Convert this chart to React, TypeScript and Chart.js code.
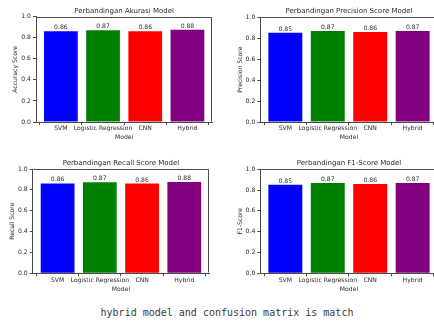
import React, { useEffect, useRef } from "react";
import { Chart, registerables } from "chart.js";

Chart.register(...registerables);

const models = ["SVM", "Logistic Regression", "CNN", "Hybrid"];
const barColors = ["#0000ff", "#008000", "#ff0000", "#800080"];
const accuracyValues = [0.862, 0.872, 0.861, 0.876];
const precisionValues = [0.853, 0.868, 0.859, 0.868];
const recallValues = [0.862, 0.872, 0.861, 0.876];
const f1Values = [0.852, 0.869, 0.858, 0.869];
const yTickValues = [0, 0.2, 0.4, 0.6, 0.8, 1.0];
const captionText = "hybrid model and confusion matrix is match";

const FAMILY = '"DejaVu Sans", sans-serif';
const TEXT = "#2a2a2a";
const LINE = "#4a4a4a";
const SMALL = 6.1;
const TITLE = 7;

type Layout = {
  left: number; top: number; width: number; height: number;
  plotLeft: number; plotRight: number; plotTop: number; plotBottom: number;
  titleY: number; yTitleX: number; xTitleY: number;
};

const framePlugin = {
  id: "frame",
  afterDatasetsDraw(chart: any) {
    const { ctx, chartArea: a } = chart;
    ctx.save();
    ctx.strokeStyle = LINE;
    ctx.lineWidth = 1;
    const l = Math.round(a.left) + 0.5;
    const r = Math.round(a.right) - 0.5;
    const t = Math.round(a.top) + 0.5;
    const b = Math.round(a.bottom) - 0.5;
    ctx.beginPath();
    ctx.moveTo(l, t);
    ctx.lineTo(r, t);
    ctx.lineTo(r, b);
    ctx.stroke();
    ctx.restore();
  },
};

const valueLabelPlugin = {
  id: "valueLabels",
  afterDatasetsDraw(chart: any) {
    const { ctx } = chart;
    const meta = chart.getDatasetMeta(0);
    const data = chart.data.datasets[0].data as any[];
    ctx.save();
    ctx.font = `${SMALL}px ${FAMILY}`;
    ctx.fillStyle = TEXT;
    ctx.textAlign = "center";
    ctx.textBaseline = "bottom";
    meta.data.forEach((el: any, i: number) => {
      ctx.fillText(Number(data[i].y).toFixed(2), el.x, el.y - 0.5);
    });
    ctx.restore();
  },
};

function BarPanel({ layout, title, yLabel, values }: { layout: Layout; title: string; yLabel: string; values: number[] }) {
  const ref = useRef<HTMLCanvasElement>(null);
  useEffect(() => {
    const L = layout;
    const titleLH = TITLE * 1.2;
    const smallLH = SMALL * 1.2;
    const titlePadTop = L.titleY - titleLH / 2;
    const titlePadBottom = L.plotTop - titleLH - titlePadTop;
    const xTitlePadBottom = L.height - L.xTitleY - smallLH / 2;
    const yTitlePadTop = L.yTitleX - smallLH / 2;
    const font = { family: FAMILY, size: SMALL };
    const chart = new Chart(ref.current as HTMLCanvasElement, {
      type: "bar",
      data: {
        datasets: [
          {
            data: values.map((v, i) => ({ x: i, y: v })) as any,
            backgroundColor: barColors,
            borderWidth: 0,
            barPercentage: 0.8,
            categoryPercentage: 1,
          },
        ],
      },
      options: {
        animation: false,
        responsive: false,
        devicePixelRatio: 1,
        layout: { padding: { left: 0, top: 0, bottom: 0, right: L.width - L.plotRight } },
        plugins: {
          legend: { display: false },
          tooltip: { enabled: false },
          title: {
            display: true,
            fullSize: false,
            text: title,
            color: TEXT,
            font: { family: FAMILY, size: TITLE, weight: "normal" as any },
            padding: { top: titlePadTop, bottom: titlePadBottom },
          },
        },
        scales: {
          x: {
            type: "linear",
            min: -0.59,
            max: 3.59,
            offset: false,
            afterBuildTicks: (s: any) => {
              s.ticks = models.map((_, i) => ({ value: i }));
            },
            afterFit: (s: any) => {
              s.height = L.height - L.plotBottom;
            },
            ticks: {
              autoSkip: false,
              maxRotation: 0,
              minRotation: 0,
              padding: 0,
              color: TEXT,
              font,
              callback: (v: any) => models[Number(v)] ?? "",
            },
            grid: { drawOnChartArea: false, drawTicks: true, tickLength: 3, color: LINE },
            border: { display: true, color: LINE, width: 1 },
            title: { display: true, text: "Model", color: TEXT, font, padding: { top: 0, bottom: xTitlePadBottom } },
          } as any,
          y: {
            type: "linear",
            min: 0,
            max: 1,
            afterBuildTicks: (s: any) => {
              s.ticks = yTickValues.map((v) => ({ value: v }));
            },
            afterFit: (s: any) => {
              s.width = L.plotLeft;
            },
            ticks: {
              padding: 2,
              color: TEXT,
              font,
              callback: (v: any) => Number(v).toFixed(1),
            },
            grid: { drawOnChartArea: false, drawTicks: true, tickLength: 3, color: LINE },
            border: { display: true, color: LINE, width: 1 },
            title: { display: true, text: yLabel, color: TEXT, font, padding: { top: yTitlePadTop, bottom: 0 } },
          } as any,
        },
      },
      plugins: [framePlugin, valueLabelPlugin],
    });
    return () => chart.destroy();
  }, []);
  return (
    <canvas
      ref={ref}
      width={layout.width}
      height={layout.height}
      style={{ position: "absolute", left: layout.left, top: layout.top, width: layout.width, height: layout.height }}
    />
  );
}

const layouts: Layout[] = [
  { left: 0, top: 0, width: 217, height: 150, plotLeft: 36, plotRight: 212.3, plotTop: 16.7, plotBottom: 122, titleY: 11, yTitleX: 15, xTitleY: 137 },
  { left: 217, top: 0, width: 230, height: 150, plotLeft: 43.3, plotRight: 220.7, plotTop: 17.3, plotBottom: 122, titleY: 11, yTitleX: 23, xTitleY: 137.7 },
  { left: 0, top: 150, width: 217, height: 150, plotLeft: 32.7, plotRight: 209.2, plotTop: 19, plotBottom: 123.3, titleY: 12.7, yTitleX: 12.3, xTitleY: 139.5 },
  { left: 217, top: 150, width: 230, height: 150, plotLeft: 43.3, plotRight: 220.7, plotTop: 19.3, plotBottom: 123.3, titleY: 12.7, yTitleX: 23.3, xTitleY: 139.5 },
];

export default function App() {
  return (
    <div style={{ position: "fixed", left: 0, top: 0, width: 434, height: 322, overflow: "hidden", background: "#fff" }}>
      <BarPanel layout={layouts[0]} title="Perbandingan Akurasi Model" yLabel="Accuracy Score" values={accuracyValues} />
      <BarPanel layout={layouts[1]} title="Perbandingan Precision Score Model" yLabel="Precision Score" values={precisionValues} />
      <BarPanel layout={layouts[2]} title="Perbandingan Recall Score Model" yLabel="Recall Score" values={recallValues} />
      <BarPanel layout={layouts[3]} title="Perbandingan F1-Score Model" yLabel="F1-Score" values={f1Values} />
      <div
        style={{
          position: "absolute",
          left: 0,
          top: 306,
          width: 454,
          textAlign: "center",
          fontFamily: '"DejaVu Sans Mono", monospace',
          fontSize: 10,
          lineHeight: "14px",
          color: "#3a3a3a",
          whiteSpace: "nowrap",
        }}
      >
        {captionText}
      </div>
    </div>
  );
}
